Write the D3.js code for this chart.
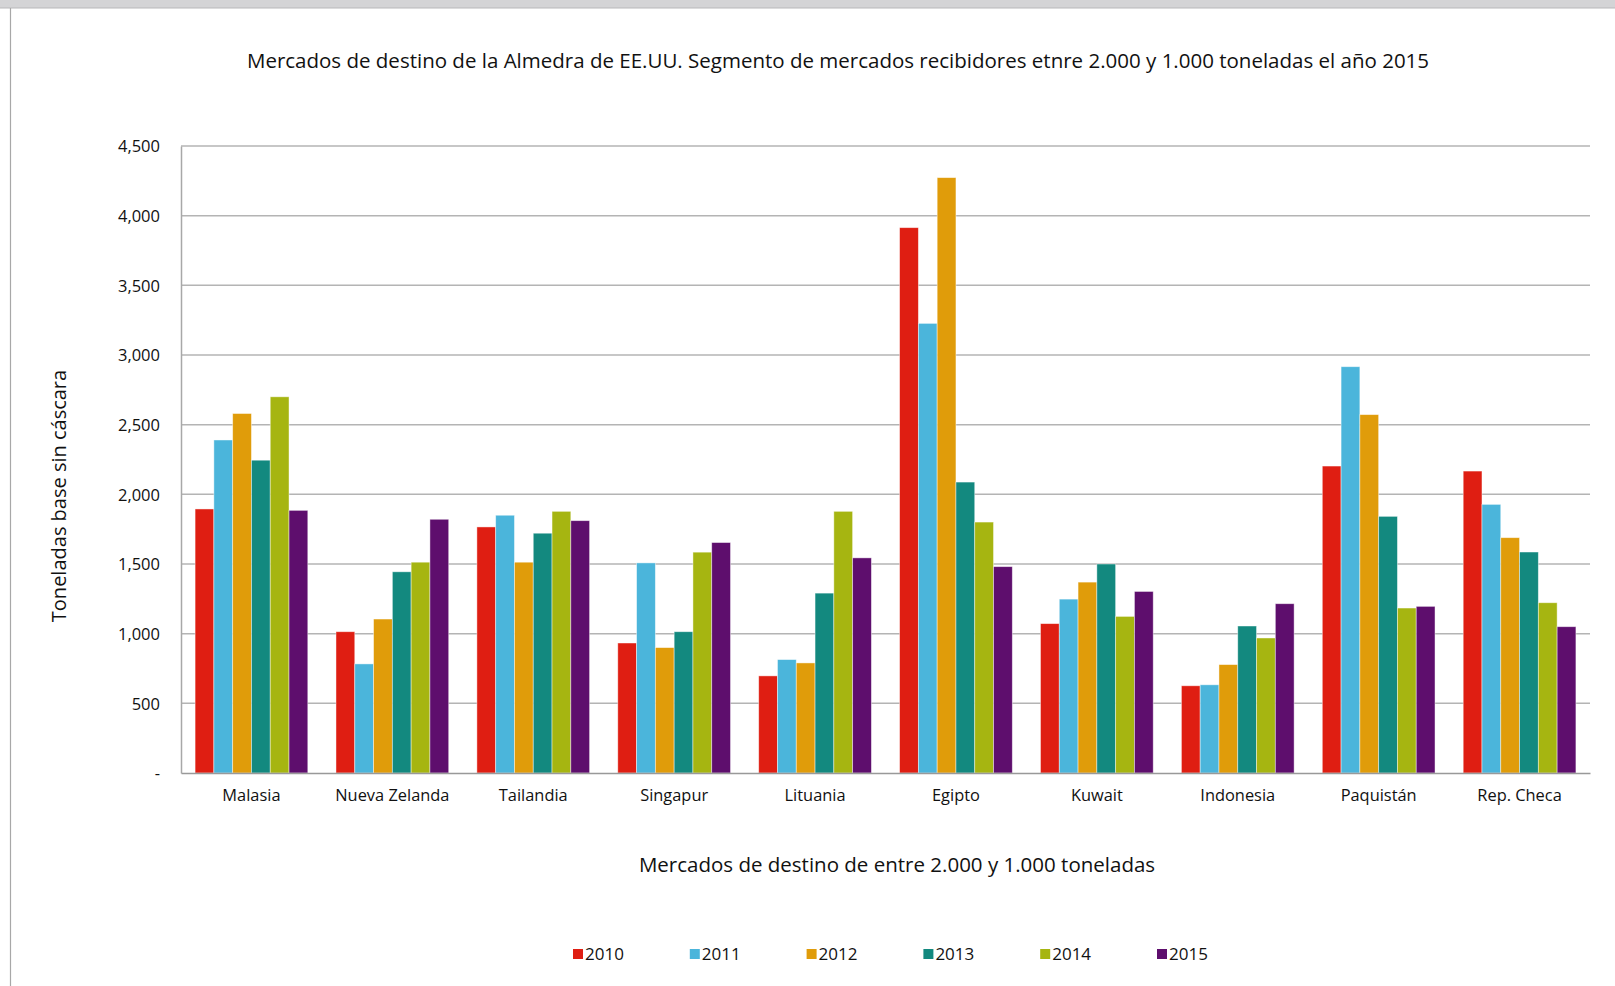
<!DOCTYPE html>
<html>
<head>
<meta charset="utf-8">
<script src="https://cdn.jsdelivr.net/npm/d3@7"></script>
<style>
  html, body { margin: 0; padding: 0; background: #fff; }
  svg { display: block; }
  text { font-family: "Open Sans", "Noto Sans", sans-serif; fill: #111; }
</style>
</head>
<body>
<svg id="chart" width="1615" height="986"></svg>
<script>
// Destination markets and yearly shipments (tonnes, shelled basis)
const markets = ["Malasia", "Nueva Zelanda", "Tailandia", "Singapur", "Lituania",
                 "Egipto", "Kuwait", "Indonesia", "Paquistán", "Rep. Checa"];
const years = ["2010", "2011", "2012", "2013", "2014", "2015"];

const v2010 = [1895, 1014, 1766, 933, 697, 3914, 1072, 626, 2203, 2167];
const v2011 = [2390, 783, 1850, 1508, 814, 3227, 1248, 633, 2916, 1928];
const v2012 = [2580, 1105, 1513, 900, 790, 4273, 1370, 778, 2572, 1689];
const v2013 = [2245, 1444, 1721, 1014, 1291, 2088, 1500, 1055, 1842, 1586];
const v2014 = [2700, 1513, 1878, 1585, 1878, 1801, 1124, 969, 1184, 1222];
const v2015 = [1885, 1821, 1811, 1654, 1544, 1481, 1303, 1215, 1196, 1050];

const yTicks = [0, 500, 1000, 1500, 2000, 2500, 3000, 3500, 4000, 4500];
const yTickLabels = ["-", "500", "1,000", "1,500", "2,000", "2,500", "3,000", "3,500", "4,000", "4,500"];

const colors = ["#df1e12", "#4bb5db", "#e09c0a", "#13897f", "#a6b511", "#5e0e6d"];

const titleText = "Mercados de destino de la Almedra de EE.UU. Segmento de mercados recibidores etnre 2.000 y 1.000 toneladas el año 2015";
const xTitleText = "Mercados de destino de entre 2.000 y 1.000 toneladas";
const yTitleText = "Toneladas base sin cáscara";

const series = [v2010, v2011, v2012, v2013, v2014, v2015];
const rows = markets.map((m, i) => ({
  market: m,
  values: years.map((y, j) => ({ year: y, value: series[j][i], color: colors[j] }))
}));

const svg = d3.select("#chart");

// page frame: grey strip along the top and a thin rule at the left
svg.append("rect").attr("x", 0).attr("y", 0).attr("width", 1615).attr("height", 8).attr("fill", "#d4d4d6");
svg.append("line").attr("x1", 0).attr("x2", 1615).attr("y1", 8).attr("y2", 8).attr("stroke", "#b8b8ba").attr("stroke-width", 1);
svg.append("line").attr("x1", 10.5).attr("x2", 10.5).attr("y1", 8).attr("y2", 986).attr("stroke", "#a8a8a8").attr("stroke-width", 1.2);

const plot = { left: 181, right: 1590, top: 146, bottom: 773 };

const y = d3.scaleLinear().domain([0, 4500]).range([plot.bottom, plot.top]);
const x0 = d3.scaleBand().domain(markets).range([plot.left, plot.right]).paddingInner(0).paddingOuter(0);
const x1 = d3.scaleBand().domain(years).range([0, x0.bandwidth()]).paddingInner(0).paddingOuter(0.75);

// horizontal gridlines
svg.append("g")
  .selectAll("line")
  .data(yTicks.filter(t => t > 0))
  .join("line")
  .attr("x1", plot.left).attr("x2", plot.right)
  .attr("y1", d => y(d)).attr("y2", d => y(d))
  .attr("stroke", "#b4b4b4").attr("stroke-width", 1.5);

// bars
svg.append("g")
  .selectAll("g")
  .data(rows)
  .join("g")
  .attr("transform", d => `translate(${x0(d.market)},0)`)
  .selectAll("rect")
  .data(d => d.values)
  .join("rect")
  .attr("x", d => x1(d.year))
  .attr("y", d => y(d.value))
  .attr("width", x1.bandwidth())
  .attr("height", d => y(0) - y(d.value))
  .attr("fill", d => d.color)
  .attr("stroke", "rgba(255,255,255,0.55)")
  .attr("stroke-width", 0.8);

// axes
const yAxis = d3.axisLeft(y).tickValues(yTicks).tickFormat((d, i) => yTickLabels[i]).tickSize(0).tickPadding(21);
const gy = svg.append("g").attr("transform", `translate(${plot.left},0)`).call(yAxis);
gy.select(".domain").attr("stroke", "#a8a8a8").attr("stroke-width", 1.5);
gy.selectAll("text").style("font-size", "16.5px").attr("fill", "#111").attr("dy", "0.35em");

const xAxis = d3.axisBottom(x0).tickSize(0).tickPadding(16);
const gx = svg.append("g").attr("transform", `translate(0,${plot.bottom})`).call(xAxis);
gx.select(".domain").attr("stroke", "#999").attr("stroke-width", 1.5);
gx.selectAll("text").style("font-size", "16.4px").attr("fill", "#111");

// titles
svg.append("text").attr("x", 838).attr("y", 68).attr("text-anchor", "middle")
  .style("font-size", "20.5px").text(titleText);
svg.append("text").attr("x", 897).attr("y", 872).attr("text-anchor", "middle")
  .style("font-size", "20.5px").text(xTitleText);
svg.append("text").attr("transform", "translate(66,496) rotate(-90)").attr("text-anchor", "middle")
  .style("font-size", "20px").text(yTitleText);

// legend
const legend = svg.append("g").attr("transform", "translate(573,954)");
const li = legend.selectAll("g").data(years).join("g")
  .attr("transform", (d, i) => `translate(${i * 116.8},0)`);
li.append("rect").attr("x", 0).attr("y", -5).attr("width", 10).attr("height", 10)
  .attr("fill", (d, i) => colors[i]);
li.append("text").attr("x", 12).attr("y", 0).attr("dy", "0.36em")
  .style("font-size", "17px").text(d => d);
</script>
</body>
</html>
